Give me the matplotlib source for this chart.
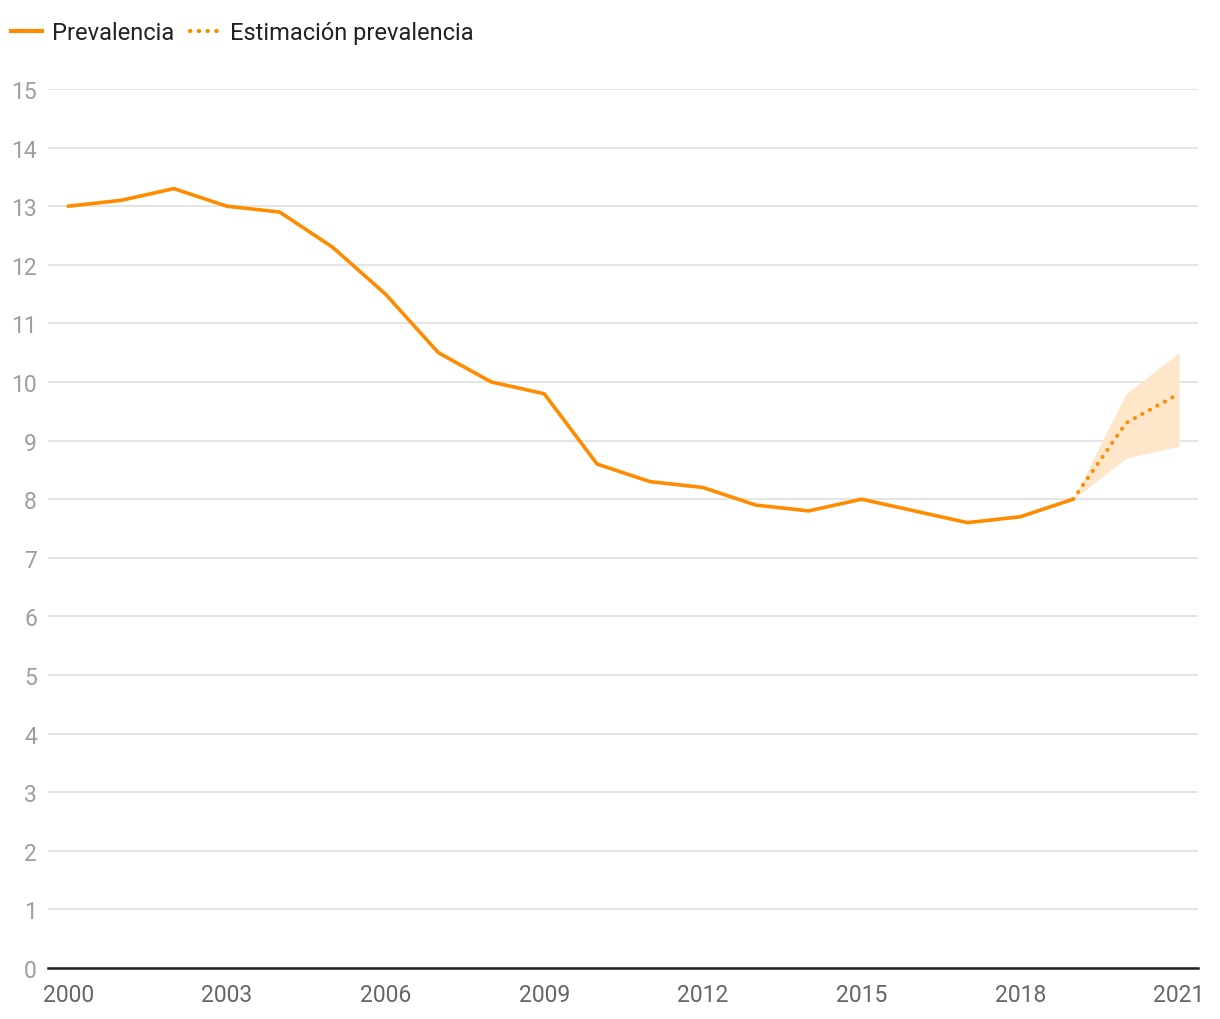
import matplotlib.pyplot as plt
from matplotlib.lines import Line2D

plt.rcParams['font.family'] = ['Roboto', 'DejaVu Sans']

# datos
years = [2000, 2001, 2002, 2003, 2004, 2005, 2006, 2007, 2008, 2009,
         2010, 2011, 2012, 2013, 2014, 2015, 2016, 2017, 2018, 2019]
prevalencia = [13.0, 13.1, 13.3, 13.0, 12.9, 12.3, 11.5, 10.5, 10.0, 9.8,
               8.6, 8.3, 8.2, 7.9, 7.8, 8.0, 7.8, 7.6, 7.7, 8.0]
est_years = [2019, 2020, 2021]
est_prev = [8.0, 9.3, 9.8]
est_low = [8.0, 8.7, 8.9]
est_high = [8.0, 9.8, 10.5]

naranja = '#FF8C00'

fig = plt.figure(figsize=(12.2, 10.2), dpi=100)
ax = fig.add_axes([48/1220, 1 - 969/1020, 1150/1220, 879/1020])

ax.fill_between(est_years, est_low, est_high, color='#FDE6CA', lw=0, zorder=1)
ax.plot(years, prevalencia, color=naranja, lw=2.6, zorder=3, solid_capstyle='round')
ax.plot(est_years, est_prev, color=naranja, lw=2.8, ls=(0, (0.1, 2.1)),
        dash_capstyle='round', zorder=3)

ax.set_xlim(1999.62, 2021.36)
ax.set_ylim(0, 15)
ax.set_yticks(range(0, 16))
ax.set_xticks([2000, 2003, 2006, 2009, 2012, 2015, 2018, 2021])
ax.grid(axis='y', color='#E0E0E0', lw=1.2, zorder=0)
ax.set_axisbelow(True)
for s in ['top', 'right', 'left']:
    ax.spines[s].set_visible(False)
ax.spines['bottom'].set_color('#222222')
ax.spines['bottom'].set_linewidth(1.8)
ax.tick_params(axis='y', length=0, pad=8, labelsize=16.5, labelcolor='#9E9E9E')
ax.tick_params(axis='x', length=0, pad=11, labelsize=16.5, labelcolor='#666666')

handles = [Line2D([], [], color=naranja, lw=3),
           Line2D([], [], color=naranja, lw=3, ls=(0, (0.1, 2.0)), dash_capstyle='round')]
fig.legend(handles, ['Prevalencia', 'Estimación prevalencia'], loc='upper left',
           bbox_to_anchor=(2/1220, 1 - 13/1020), ncol=2, frameon=False, fontsize=17,
           borderaxespad=0, handlelength=1.3, handletextpad=0.4, columnspacing=0.7,
           labelcolor='#222222')

fig.savefig('out.png', dpi=100)
